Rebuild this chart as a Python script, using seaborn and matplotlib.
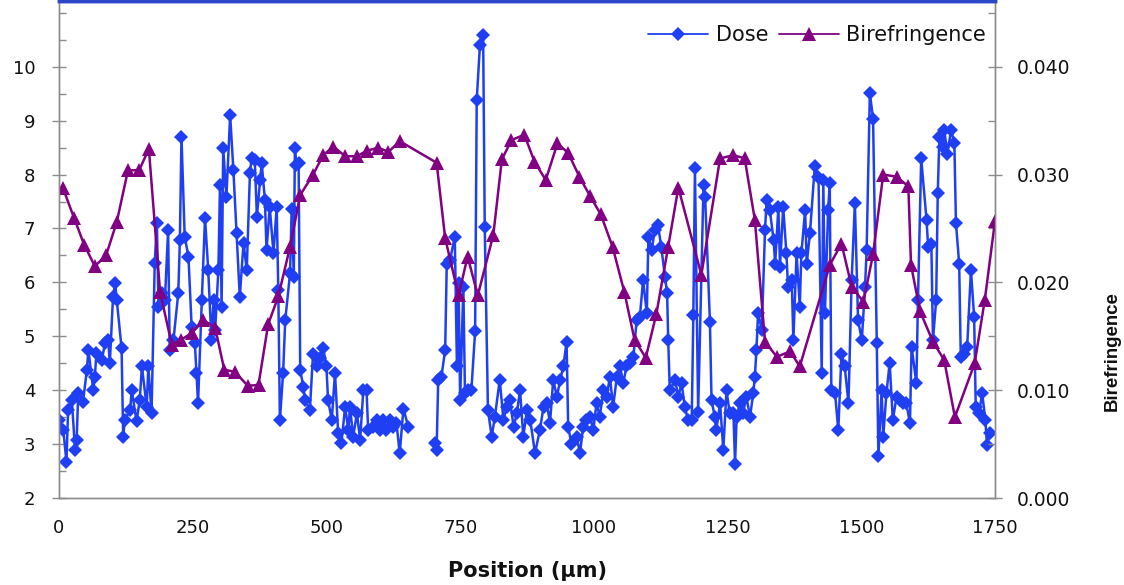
import numpy as np
import pandas as pd
import matplotlib
matplotlib.use("Agg")
import matplotlib.pyplot as plt
from matplotlib.lines import Line2D
from matplotlib.ticker import MultipleLocator, FixedLocator
import seaborn as sns

# ---------------- data ----------------
dose_pos_a = [0, 8, 14, 17, 24, 30, 33, 36, 45, 52, 55, 64, 67, 70, 80, 86, 92, 95, 101, 105,
              108, 117, 120, 123, 133, 136, 145, 151, 155, 164, 167, 173, 179, 183, 186, 192, 198, 204, 207, 214,
              223, 226, 229, 235, 242, 248, 254, 257, 260, 267, 273, 279, 285, 289, 292, 298, 301, 304, 307, 313,
              320, 326, 332, 338, 345, 351, 357, 360, 366, 370, 376, 379, 385, 388, 394, 401, 407, 410, 413, 419,
              423, 432, 435, 439, 441, 444, 448, 451, 457, 460, 469, 475, 482, 488, 494, 500, 503, 510, 516, 522,
              528, 535, 541, 544, 550, 557, 563, 569, 575, 578, 588, 594, 600, 606, 612, 619, 625, 631, 637, 644, 653]
dose_a = [3.45, 3.26, 2.67, 3.63, 3.82, 2.89, 3.08, 3.95, 3.79, 4.37, 4.75, 4.0, 4.25, 4.69, 4.56, 4.87, 4.93, 4.5, 5.73, 5.99,
          5.67, 4.78, 3.14, 3.45, 3.63, 4.0, 3.42, 3.82, 4.44, 3.69, 4.44, 3.57, 6.36, 7.1, 5.55, 5.8, 5.67, 6.97, 4.75, 4.93,
          5.8, 6.79, 8.7, 6.85, 6.48, 5.18, 4.87, 4.32, 3.76, 5.67, 7.2, 6.23, 4.93, 5.67, 5.12, 6.23, 7.81, 5.55, 8.49, 7.59,
          9.1, 8.09, 6.91, 5.73, 6.73, 6.23, 8.03, 8.3, 8.27, 7.22, 7.9, 8.21, 7.53, 6.6, 7.4, 6.54, 7.4, 5.86, 3.45, 4.32,
          5.3, 6.17, 7.37, 6.1, 8.49, 8.18, 8.21, 4.37, 4.06, 3.82, 3.63, 4.68, 4.44, 4.6, 4.78, 4.44, 3.82, 3.45, 4.32, 3.2,
          3.02, 3.69, 3.26, 3.69, 3.14, 3.57, 3.08, 4.0, 4.0, 3.26, 3.32, 3.45, 3.26, 3.45, 3.26, 3.45, 3.32, 3.39, 2.83, 3.66, 3.32]

dose_pos_b = [703, 706, 709, 715, 722, 725, 731, 740, 744, 747, 750, 756, 759, 765, 771, 778, 781, 787, 793, 796,
              802, 809, 815, 824, 831, 837, 843, 850, 856, 862, 868, 875, 881, 890, 899, 906, 912, 918, 924, 931,
              937, 943, 949, 952, 958, 968, 974, 980, 986, 993, 999, 1005, 1011, 1018, 1024, 1030, 1036, 1043, 1049, 1055,
              1061, 1067, 1074, 1080, 1086, 1092, 1099, 1102, 1108, 1114, 1120, 1126, 1133, 1137, 1139, 1142, 1152, 1158, 1164, 1170,
              1176, 1183, 1186, 1189, 1195, 1205, 1208, 1217, 1220, 1226, 1229, 1236, 1242, 1248, 1254, 1261, 1264, 1267, 1273, 1279,
              1285, 1292, 1298, 1301, 1304, 1307, 1314, 1320, 1323, 1329, 1336, 1339, 1345, 1348, 1354, 1360, 1363, 1370, 1373, 1379,
              1385, 1388, 1395, 1398, 1404, 1413, 1420, 1426, 1429, 1432, 1438, 1441, 1444, 1451, 1457, 1463, 1469, 1476, 1482, 1488,
              1494, 1501, 1507, 1510, 1516, 1522, 1529, 1532, 1538, 1541, 1547, 1553, 1559, 1566, 1572, 1578, 1584, 1591, 1594, 1603,
              1606, 1612, 1622, 1625, 1631, 1634, 1640, 1643, 1646, 1652, 1655, 1661, 1668, 1674, 1677, 1683, 1686, 1692, 1698, 1705,
              1711, 1714, 1720, 1726, 1732, 1735, 1741]
dose_b = [3.02, 2.89, 4.19, 4.25, 4.75, 6.35, 6.41, 6.85, 4.44, 5.98, 3.82, 5.92, 3.94, 4.0, 4.0, 5.09, 9.38, 10.4, 10.59, 7.03,
          3.63, 3.14, 3.51, 4.19, 3.45, 3.69, 3.82, 3.32, 3.57, 4.0, 3.14, 3.63, 3.45, 2.83, 3.26, 3.69, 3.76, 3.39, 4.19, 3.88,
          4.19, 4.44, 4.9, 3.32, 3.01, 3.14, 2.83, 3.32, 3.45, 3.51, 3.26, 3.76, 3.51, 4.0, 3.88, 4.25, 3.69, 4.25, 4.44, 4.13,
          4.44, 4.5, 4.62, 5.3, 5.36, 6.04, 5.43, 6.85, 6.6, 6.97, 7.06, 6.66, 6.1, 5.8, 4.93, 4.0, 4.19, 3.88, 4.13, 3.69,
          3.45, 3.45, 5.4, 8.12, 3.6, 7.8, 7.59, 5.27, 3.82, 3.51, 3.26, 3.76, 2.89, 4.0, 3.57, 3.57, 2.64, 3.51, 3.76, 3.57,
          3.88, 3.51, 3.94, 4.25, 4.75, 5.43, 5.12, 6.97, 7.53, 7.34, 6.79, 6.35, 7.4, 6.29, 7.4, 6.54, 5.92, 6.04, 4.93, 6.54,
          5.55, 6.54, 7.34, 6.35, 6.91, 8.15, 7.96, 4.31, 7.9, 5.43, 7.34, 7.84, 4.0, 3.94, 3.26, 4.68, 4.44, 3.76, 6.04, 7.47,
          5.3, 4.93, 5.92, 6.6, 9.51, 9.04, 4.87, 2.77, 4.0, 3.14, 3.94, 4.5, 3.45, 3.88, 3.82, 3.76, 3.76, 3.39, 4.81, 4.13,
          5.67, 8.3, 7.16, 6.66, 6.72, 4.93, 5.67, 7.65, 8.7, 8.52, 8.83, 8.39, 8.83, 8.58, 7.1, 6.35, 4.62, 4.68, 4.81, 6.23,
          5.36, 3.69, 3.57, 3.94, 3.45, 2.98, 3.2]

biref_pos = [7, 28, 47, 67, 88, 108, 129, 150, 168, 189, 211, 229, 248, 270, 292, 309, 329, 353, 373, 391,
             410, 432, 451, 475, 494, 513, 535, 557, 575, 597, 616, 637, 706, 722, 747, 764, 783, 812, 828, 846,
             870, 889, 910, 932, 952, 973, 993, 1013, 1035, 1057, 1076, 1097, 1117, 1139, 1158, 1201, 1236, 1261, 1282, 1301,
             1320, 1342, 1367, 1385, 1441, 1463, 1482, 1504, 1522, 1541, 1566, 1588, 1593, 1610, 1634, 1655, 1675, 1712, 1731, 1750]
biref = [0.0288, 0.0260, 0.0235, 0.0215, 0.0225, 0.0256, 0.0304, 0.0304, 0.0324, 0.0191,
         0.0142, 0.0147, 0.0153, 0.0165, 0.0158, 0.0119, 0.0117, 0.0104, 0.0105, 0.0161,
         0.0187, 0.0233, 0.0281, 0.0300, 0.0318, 0.0326, 0.0317, 0.0317, 0.0322, 0.0325,
         0.0321, 0.0331, 0.0311, 0.0241, 0.0188, 0.0224, 0.0188, 0.0244, 0.0314, 0.0332,
         0.0337, 0.0312, 0.0295, 0.0329, 0.0320, 0.0298, 0.0280, 0.0263, 0.0233, 0.0191,
         0.0147, 0.0130, 0.0171, 0.0233, 0.0288, 0.0207, 0.0315, 0.0318, 0.0315, 0.0258,
         0.0145, 0.0131, 0.0136, 0.0122, 0.0216, 0.0236, 0.0196, 0.0182, 0.0226, 0.0300,
         0.0298, 0.0289, 0.0216, 0.0173, 0.0145, 0.0128, 0.0075, 0.0125, 0.0184, 0.0257]

x_ticks = [0, 250, 500, 750, 1000, 1250, 1500, 1750]
left_ticks = [2, 3, 4, 5, 6, 7, 8, 9, 10]
right_ticks = [0.000, 0.010, 0.020, 0.030, 0.040]

# ---------------- style ----------------
sns.set_theme(style="white")
plt.rcParams['font.family'] = ['DejaVu Sans']

DOSE_C = "#1f3ff2"
BIR_C = "#820082"
SPINE_C = "#8c8c8c"

W, H = 1124, 585
fig = plt.figure(figsize=(W / 100, H / 100), dpi=100)
ax = fig.add_axes([59 / W, 1 - 498 / H, (995 - 59) / W, 497 / H])
ax2 = ax.twinx()
ax2.set_position(ax.get_position())

dose_df = pd.DataFrame({
    "pos": dose_pos_a + dose_pos_b,
    "dose": dose_a + dose_b,
    "seg": ["a"] * len(dose_pos_a) + ["b"] * len(dose_pos_b),
})
bir_df = pd.DataFrame({"pos": biref_pos, "bir": biref})

sns.lineplot(data=dose_df, x="pos", y="dose", units="seg", estimator=None, sort=False,
             color=DOSE_C, lw=1.8, marker="D", markersize=7, markeredgewidth=0,
             ax=ax, legend=False)
sns.lineplot(data=bir_df, x="pos", y="bir", estimator=None, sort=False,
             color=BIR_C, lw=1.8, marker="^", markersize=9.5, markeredgewidth=0,
             ax=ax2, legend=False)

ax.set_xlim(0, 1750)
ax.set_ylim(2, 11.22)
ax2.set_ylim(0, (11.22 - 2) * 0.005)

ax.xaxis.set_major_locator(FixedLocator(x_ticks))
ax.xaxis.set_minor_locator(MultipleLocator(50))
ax.yaxis.set_major_locator(FixedLocator(left_ticks))
ax.yaxis.set_minor_locator(MultipleLocator(0.5))
ax.set_yticklabels([str(v) for v in left_ticks])
ax2.yaxis.set_major_locator(FixedLocator(right_ticks))
ax2.yaxis.set_minor_locator(MultipleLocator(0.005))
ax2.set_yticklabels([f"{v:.3f}" for v in right_ticks])

for a in (ax, ax2):
    for s in ("left", "right", "bottom"):
        a.spines[s].set_color(SPINE_C)
        a.spines[s].set_linewidth(1.0)
    a.spines["top"].set_color("#2b46c8")
    a.spines["top"].set_linewidth(2.5)
    a.grid(False)

ax.tick_params(axis="x", which="major", direction="inout", length=10, width=1, color=SPINE_C,
               labelsize=13, pad=10, labelcolor="#111111")
ax.tick_params(axis="x", which="minor", direction="inout", length=5, width=1, color=SPINE_C)
ax.tick_params(axis="y", which="major", direction="inout", length=10, width=1, color=SPINE_C,
               labelsize=13, pad=12, labelcolor="#111111", right=False)
ax.tick_params(axis="y", which="minor", direction="in", length=5, width=1, color=SPINE_C, right=False)
ax2.tick_params(axis="y", which="major", direction="inout", length=10, width=1, color=SPINE_C,
                labelsize=13.5, pad=11, labelcolor="#111111")
ax2.tick_params(axis="y", which="minor", direction="in", length=5, width=1, color=SPINE_C)

ax.set_xlabel("")
ax.set_ylabel("")
ax2.set_ylabel("")

fig.text(527 / W, 1 - 571 / H, "Position (μm)", ha="center", va="center",
         fontsize=15, fontweight="bold", color="#111111")
fig.text(1112 / W, 1 - 351 / H, "Birefringence", ha="center", va="center", rotation=90,
         fontsize=13.4, fontweight="bold", color="#111111", family=["Liberation Sans", "DejaVu Sans"])

handles = [
    Line2D([], [], color=DOSE_C, lw=1.3, marker="D", markersize=7, markeredgewidth=0),
    Line2D([], [], color=BIR_C, lw=1.3, marker="^", markersize=9.5, markeredgewidth=0),
]
leg = ax2.legend(handles, ["Dose", "Birefringence"], ncol=2, frameon=False,
                 loc="center right", bbox_to_anchor=(986 / W, 1 - 35 / H),
                 bbox_transform=fig.transFigure, fontsize=15, handlelength=2.9,
                 handletextpad=0.35, columnspacing=0.5, borderpad=0, borderaxespad=0)
for t in leg.get_texts():
    t.set_color("#111111")

fig.savefig("out.png", dpi=100)
